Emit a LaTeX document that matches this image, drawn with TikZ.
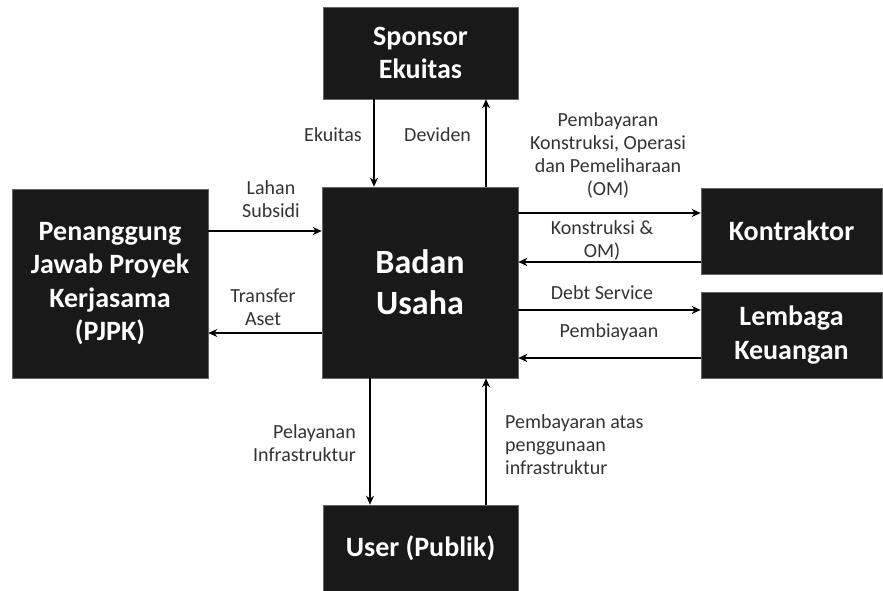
\documentclass[tikz,border=0pt]{standalone}
\usepackage{fontspec}
\setmainfont{Carlito}
\usetikzlibrary{arrows.meta}
\begin{document}
\begin{tikzpicture}[x=1pt,y=1pt,
  box/.style={fill=black!90, draw=black!60, line width=0.6pt, text=white, font=\fontsize{28}{33.5}\selectfont\bfseries, align=center, inner sep=0pt},
  arr/.style={draw=black, line width=2.4pt, -{Stealth[length=9pt,width=8pt]}},
  lbl/.style={text=black!80, font=\fontsize{20}{23}\selectfont, inner sep=0pt}]
\useasboundingbox (0,0) rectangle (883,590);
% boxes
\node[box, minimum width=196pt, minimum height=189pt] (pjpk) at (110,306.5) {Penanggung\\Jawab Proyek\\Kerjasama\\(PJPK)};
\node[box, minimum width=195pt, minimum height=92pt] (sponsor) at (420.5,537) {Sponsor\\Ekuitas};
\node[box, minimum width=196pt, minimum height=191pt, font=\fontsize{34}{41}\selectfont\bfseries] (badan) at (420,307.5) {Badan\\Usaha};
\node[box, minimum width=181pt, minimum height=86pt] (kontraktor) at (791.5,359) {Kontraktor};
\node[box, minimum width=181pt, minimum height=86pt] (lembaga) at (791.5,255) {Lembaga\\Keuangan};
\node[box, minimum width=195pt, minimum height=87pt] (user) at (420.5,41.5) {User (Publik)};
% connector positions
\coordinate (cEk) at (374,0);
\coordinate (cDev) at (486,0);
\coordinate (cPel) at (370,0);
\coordinate (cPay) at (486,0);
\coordinate (cLah) at (0,359);
\coordinate (cTra) at (0,257);
\coordinate (cKp) at (0,377);
\coordinate (cKo) at (0,328);
\coordinate (cDe) at (0,280);
\coordinate (cPb) at (0,232);
% connectors
\draw[arr] (sponsor.south -| cEk) -- (badan.north -| cEk);
\draw[arr] (badan.north -| cDev) -- (sponsor.south -| cDev);
\draw[arr] (pjpk.east |- cLah) -- (badan.west |- cLah);
\draw[arr] (badan.west |- cTra) -- (pjpk.east |- cTra);
\draw[arr] (badan.east |- cKp) -- (kontraktor.west |- cKp);
\draw[arr] (kontraktor.west |- cKo) -- (badan.east |- cKo);
\draw[arr] (badan.east |- cDe) -- (lembaga.west |- cDe);
\draw[arr] (lembaga.west |- cPb) -- (badan.east |- cPb);
\draw[arr] (badan.south -| cPel) -- (user.north -| cPel);
\draw[arr] (user.north -| cPay) -- (badan.south -| cPay);
% labels
\node[lbl, anchor=east] (lEk) at (362,455) {Ekuitas};
\node[lbl, anchor=west] (lDev) at (404,455) {Deviden};
\node[lbl, align=center] (lLah) at (271,390.5) {Lahan\\Subsidi};
\node[lbl, align=center] (lTra) at (263,283) {Transfer\\Aset};
\node[lbl, align=center] (lKp) at (608,435) {Pembayaran\\Konstruksi, Operasi\\dan Pemeliharaan\\(OM)};
\node[lbl, align=center] (lKo) at (602,350) {Konstruksi \&\\OM)};
\node[lbl, align=center] (lDe) at (602,297) {Debt Service};
\node[lbl, align=center] (lPb) at (609,258) {Pembiayaan};
\node[lbl, align=right, anchor=east] (lPel) at (356,146.5) {Pelayanan\\Infrastruktur};
\node[lbl, align=left, anchor=west] (lPay) at (505,145) {Pembayaran atas\\penggunaan\\infrastruktur};
\end{tikzpicture}
\end{document}
